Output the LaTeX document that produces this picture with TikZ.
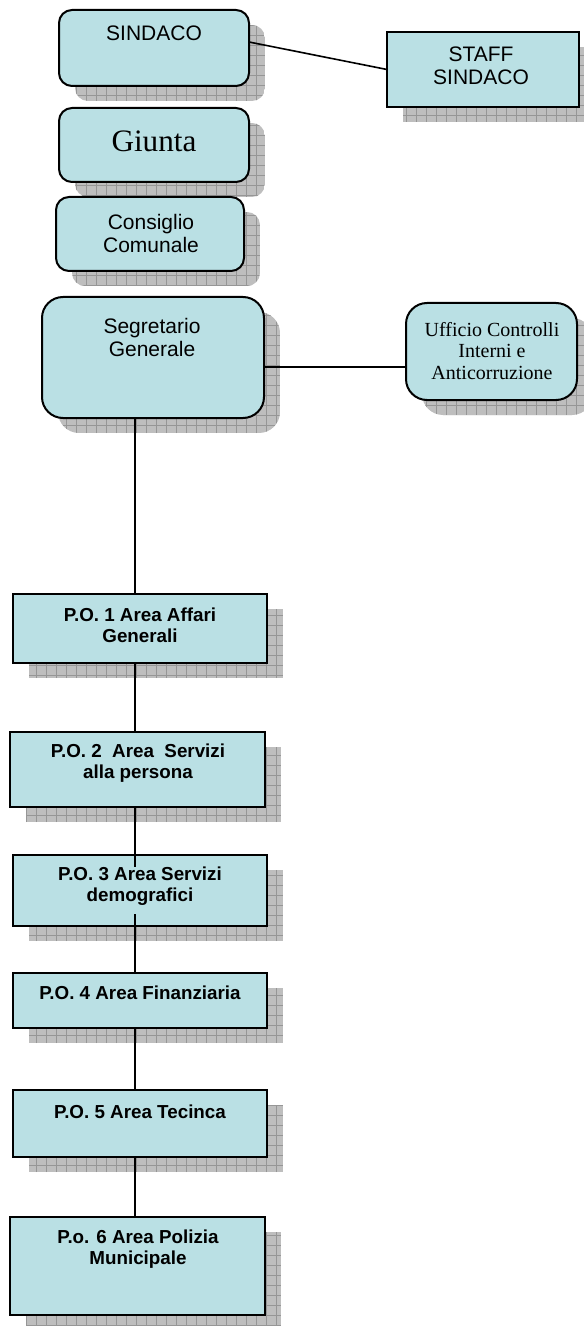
\documentclass[tikz,border=0pt]{standalone}
\usepackage{fontspec}
\setmainfont{Liberation Serif}
\setsansfont{Liberation Sans}
\usetikzlibrary{fit,calc}
\definecolor{boxfill}{RGB}{186,224,228}
\definecolor{shfill}{RGB}{190,190,190}
\definecolor{shgrid}{RGB}{150,150,150}
\tikzset{
  orgbox/.style={draw=black, line width=1pt, fill=boxfill, inner sep=0pt, outer sep=0pt},
  conn/.style={draw=black, line width=0.8pt},
  arial/.style={font=\sffamily\fontsize{10.5}{11.5}\selectfont, align=center, inner sep=0pt},
  arialbold/.style={font=\sffamily\bfseries\fontsize{9.4}{10.5}\selectfont, align=center, inner sep=0pt},
  timesbig/.style={font=\rmfamily\fontsize{15.6}{18}\selectfont, align=center, inner sep=0pt},
  timessmall/.style={font=\rmfamily\fontsize{10}{10.8}\selectfont, align=center, inner sep=0pt},
  rc/.style={rounded corners=6.5pt},
  rcbig/.style={rounded corners=10.5pt},
}
\newcommand\shadowbox[5]{%
  \begin{scope}[shift={(16,15)}]
    \begin{scope}
      \clip[#5] (#1,#2) rectangle (#3,#4);
      \fill[shfill] (#1,#2) rectangle (#3,#4);
      \draw[shgrid, line width=0.4pt, step=5pt] (#1,#2) grid (#3,#4);
    \end{scope}
  \end{scope}}
\begin{document}
\begin{tikzpicture}[x=0.5pt, y=-0.5pt]
\useasboundingbox (0,0) rectangle (583,1326);
% shadows
\shadowbox{59}{10}{249}{86}{rc}
\shadowbox{387}{32}{579}{107}{sharp corners}
\shadowbox{59}{108}{249}{182}{rc}
\shadowbox{56}{197}{244}{271}{rc}
\shadowbox{42}{297}{264}{418}{rcbig}
\shadowbox{406}{303}{577}{400}{rcbig}
\shadowbox{13}{594}{267}{663}{sharp corners}
\shadowbox{10}{732}{265}{807}{sharp corners}
\shadowbox{13}{855}{267}{926}{sharp corners}
\shadowbox{13}{973}{267}{1028}{sharp corners}
\shadowbox{13}{1090}{267}{1157}{sharp corners}
\shadowbox{10}{1217}{265}{1315}{sharp corners}
% boxes
\node[orgbox, rc, fit={(59,10) (249,86)}] (sind) {};
\node[orgbox, fit={(387,32) (579,107)}] (staff) {};
\node[orgbox, rc, fit={(59,108) (249,182)}] (giunta) {};
\node[orgbox, rc, fit={(56,197) (244,271)}] (cons) {};
\node[orgbox, rcbig, fit={(42,297) (264,418)}] (seg) {};
\node[orgbox, rcbig, fit={(406,303) (577,400)}] (uff) {};
\node[orgbox, fit={(13,594) (267,663)}] (po1) {};
\node[orgbox, fit={(10,732) (265,807)}] (po2) {};
\node[orgbox, fit={(13,855) (267,926)}] (po3) {};
\node[orgbox, fit={(13,973) (267,1028)}] (po4) {};
\node[orgbox, fit={(13,1090) (267,1157)}] (po5) {};
\node[orgbox, fit={(10,1217) (265,1315)}] (po6) {};
% texts
\node[arial] (sindt) at (154,33) {SINDACO};
\node[arial] (stafft) at (481,66) {STAFF\\SINDACO};
\node[timesbig] (giuntat) at (154,141) {Giunta};
\node[arial] (const) at (151,233) {Consiglio\\Comunale};
\node[arial] (segt) at (152,337) {Segretario\\Generale};
\node[timessmall] (ufft) at (492,351) {Ufficio Controlli\\Interni e\\Anticorruzione};
\node[arialbold] (po1t) at (140,625) {P.O. 1 Area Affari\\Generali};
\node[arialbold] (po2t) at (138,763) {P.O. 2\ \ Area\ \ Servizi\\alla persona};
\node[arialbold] (po3t) at (140,886) {P.O. 3 Area Servizi\\demografici};
\node[arialbold] (po4t) at (140,993) {P.O. 4 Area Finanziaria};
\node[arialbold] (po5t) at (140,1112) {P.O. 5 Area Tecinca};
\node[arialbold] (po6t) at (138,1249) {P.o. 6 Area Polizia\\Municipale};
% connectors
\coordinate (v) at (135,0);
\coordinate (h) at (0,367);
\draw[conn] ([yshift=3pt]sind.east) -- (staff.west);
\draw[conn] (seg.east |- h) -- (uff.west |- h);
\draw[conn] (seg.south -| v) -- (po1.north -| v);
\draw[conn] (po1.south -| v) -- (po2.north -| v);
\draw[conn] (po2.south -| v) -- ([yshift=-6pt]po3.north -| v);
\draw[conn] ([yshift=6pt]po3.south -| v) -- (po4.north -| v);
\draw[conn] (po4.south -| v) -- (po5.north -| v);
\draw[conn] (po5.south -| v) -- (po6.north -| v);
\end{tikzpicture}
\end{document}
